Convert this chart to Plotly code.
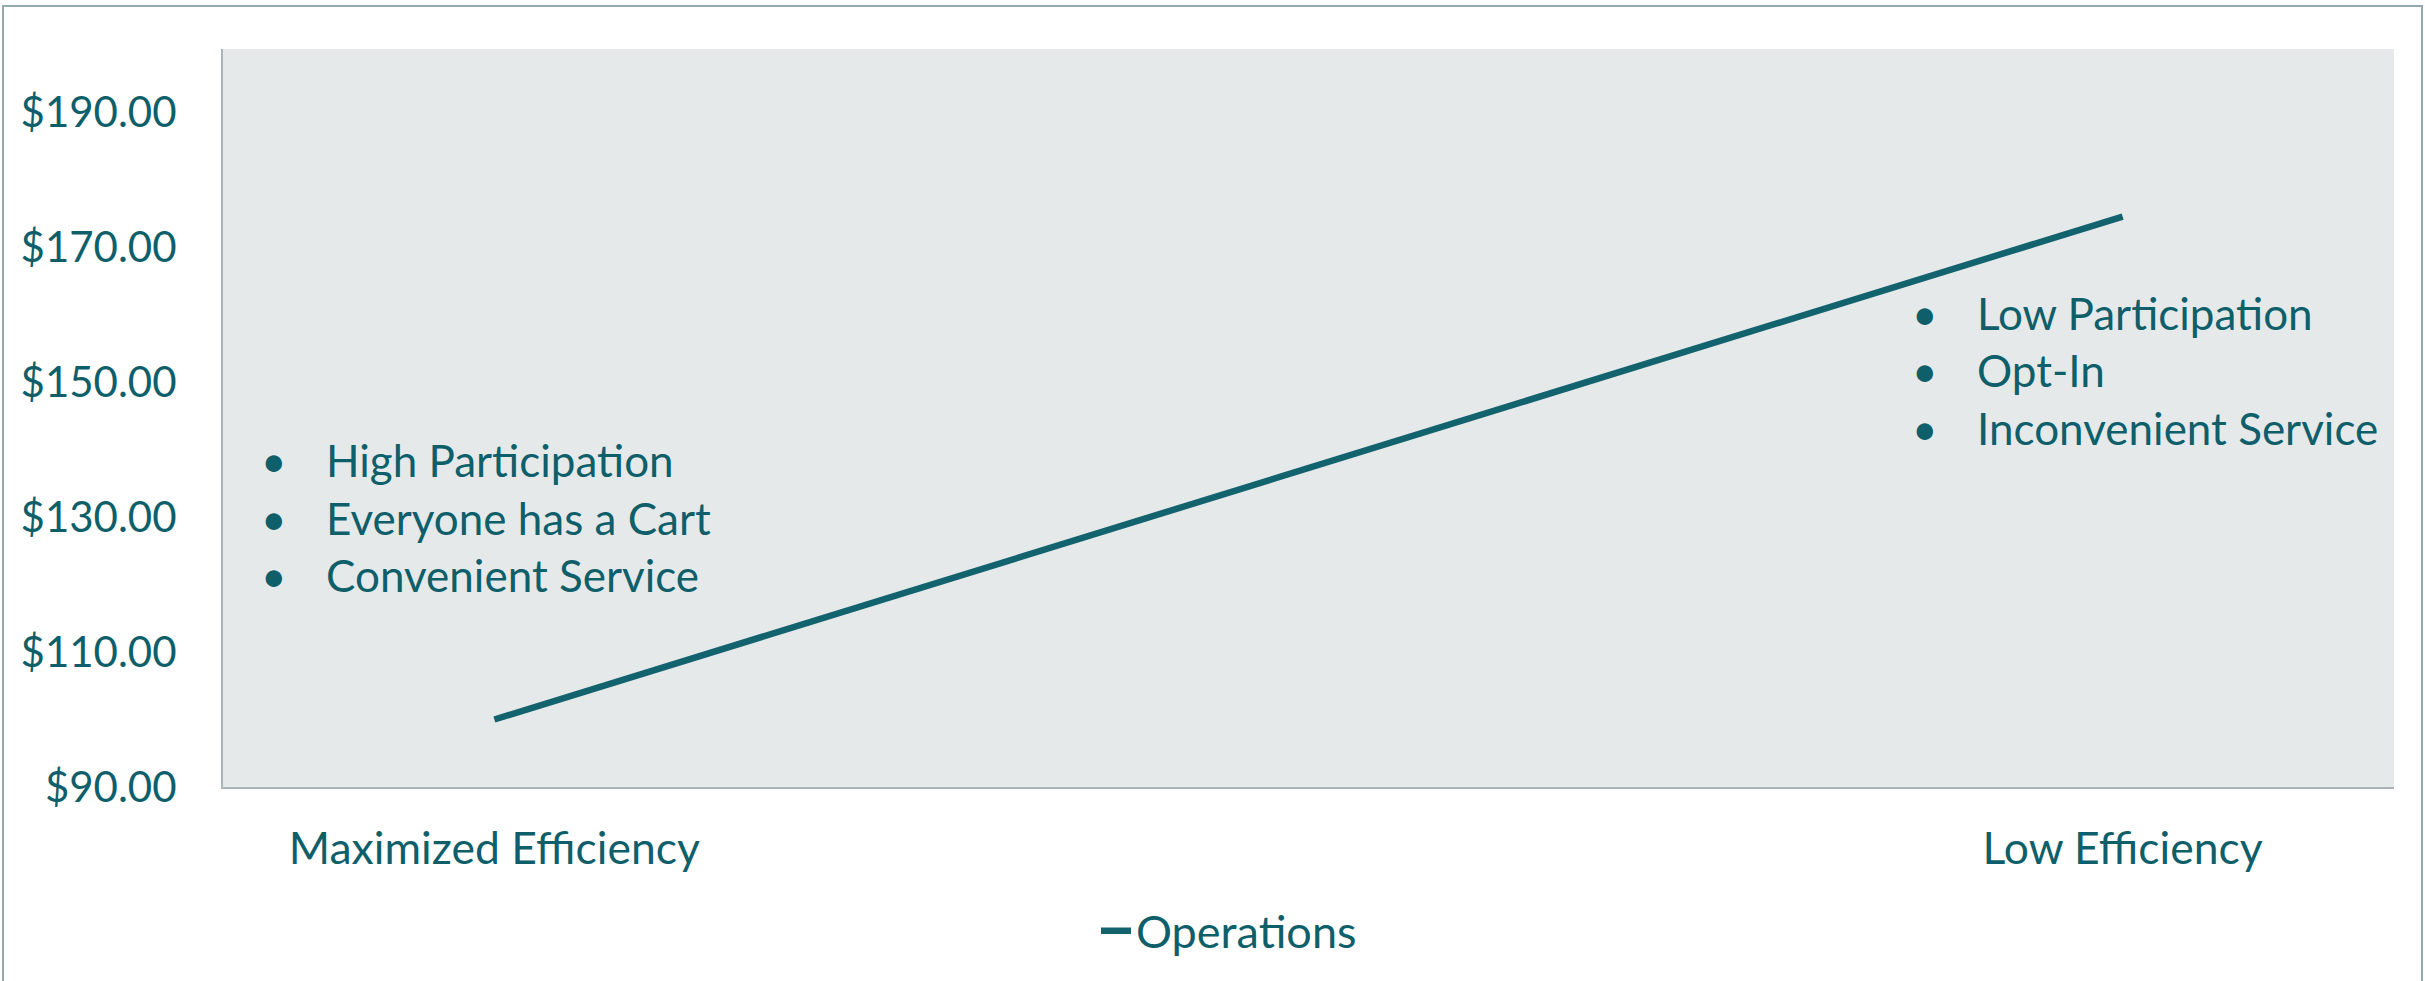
import plotly.graph_objects as go

# ---- data ----
categories = ["Maximized Efficiency", "", "", "Low Efficiency"]
operations = [100, None, None, 174.5]
y_ticks = [90, 110, 130, 150, 170, 190]
left_notes = ["High Participation", "Everyone has a Cart", "Convenient Service"]
right_notes = ["Low Participation", "Opt-In", "Inconvenient Service"]

# ---- layout geometry (pixels) ----
W, H = 2425, 981
L, R, T, B = 223, 2394, 49, 787
TEAL = "#0f5f6b"
LINE = "#13636f"
FONT = "Lato"


def px(x):
    return (x - L) / (R - L)


def py(y):
    return (B - y) / (B - T)


xs = list(range(len(categories)))

fig = go.Figure()
fig.add_trace(go.Scatter(
    x=xs, y=operations, mode="lines", name="Operations",
    connectgaps=True,
    line=dict(color=LINE, width=6.5),
))

annotations = []
for i, t in enumerate(left_notes):
    yy = 460 + i * 57.5
    annotations.append(dict(text="•", x=px(274), y=py(yy), xref="paper", yref="paper",
                            xanchor="center", yanchor="middle", showarrow=False,
                            font=dict(family=FONT, size=44, color=TEAL)))
    annotations.append(dict(text=t, x=px(324), y=py(yy), xref="paper", yref="paper",
                            xanchor="left", yanchor="middle", showarrow=False,
                            font=dict(family=FONT, size=44, color=TEAL)))
for i, t in enumerate(right_notes):
    yy = 313 + i * 57.5
    annotations.append(dict(text="•", x=px(1925), y=py(yy), xref="paper", yref="paper",
                            xanchor="center", yanchor="middle", showarrow=False,
                            font=dict(family=FONT, size=44, color=TEAL)))
    annotations.append(dict(text=t, x=px(1975), y=py(yy), xref="paper", yref="paper",
                            xanchor="left", yanchor="middle", showarrow=False,
                            font=dict(family=FONT, size=44, color=TEAL)))

fig.update_layout(
    width=W, height=H,
    margin=dict(l=L, r=W - R, t=T, b=H - B, pad=0),
    paper_bgcolor="white",
    plot_bgcolor="#e5e9ea",
    font=dict(family=FONT, size=42, color=TEAL),
    showlegend=True,
    legend=dict(orientation="h", x=px(1229), xanchor="center", y=py(931), yanchor="middle",
                font=dict(family=FONT, size=45, color=TEAL), bgcolor="rgba(0,0,0,0)"),
    annotations=annotations,
    shapes=[dict(type="rect", xref="paper", yref="paper",
                 x0=px(3), x1=px(2422), y0=py(6), y1=py(1000),
                 line=dict(color="#93a8b1", width=2), fillcolor="rgba(0,0,0,0)", layer="above")],
)

fig.update_xaxes(
    range=[-0.5, len(categories) - 0.5],
    tickmode="array", tickvals=xs, ticktext=categories,
    showgrid=False, zeroline=False, ticks="",
    showline=True, linecolor="#a9b5ba", linewidth=2,
    tickfont=dict(family=FONT, size=44.5, color=TEAL),
    ticklabelstandoff=22,
)
fig.update_yaxes(
    range=[90, 199.33],
    tickmode="array", tickvals=y_ticks,
    ticktext=[f"${v:.2f}" for v in y_ticks],
    showgrid=False, zeroline=False, ticks="",
    showline=True, linecolor="#a9b5ba", linewidth=2,
    tickfont=dict(family=FONT, size=42, color=TEAL),
    ticklabelstandoff=36,
)

fig.write_html("out.html")
